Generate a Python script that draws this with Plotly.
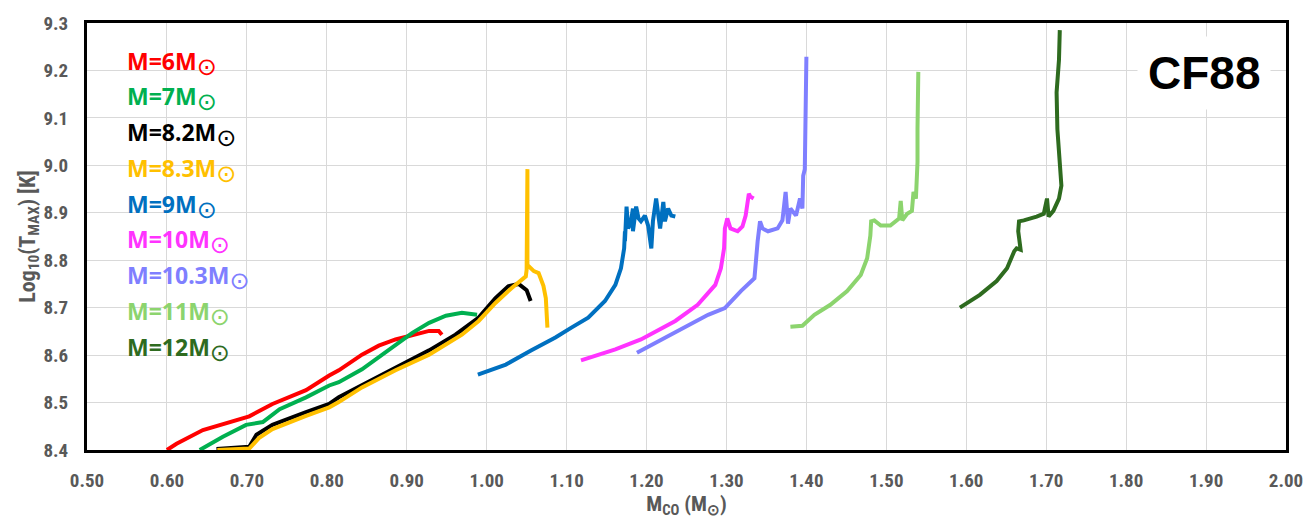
import plotly.graph_objects as go

# ---------------- data ----------------
m6_x = [0.600, 0.612, 0.645, 0.691, 0.703, 0.732, 0.774, 0.803, 0.815, 0.844, 0.865, 0.886, 0.907, 0.928, 0.940, 0.944]
m6_y = [8.400, 8.413, 8.442, 8.465, 8.471, 8.497, 8.526, 8.557, 8.568, 8.601, 8.620, 8.633, 8.643, 8.651, 8.651, 8.643]

m7_x = [0.641, 0.670, 0.699, 0.720, 0.741, 0.774, 0.803, 0.815, 0.844, 0.865, 0.886, 0.907, 0.928, 0.949, 0.969, 0.988]
m7_y = [8.400, 8.428, 8.453, 8.459, 8.486, 8.511, 8.536, 8.543, 8.570, 8.595, 8.622, 8.647, 8.668, 8.683, 8.689, 8.685]

m82_x = [0.662, 0.690, 0.703, 0.712, 0.732, 0.774, 0.803, 0.815, 0.844, 0.886, 0.928, 0.961, 0.990, 1.011, 1.027, 1.040, 1.050, 1.055]
m82_y = [8.402, 8.404, 8.407, 8.432, 8.453, 8.480, 8.497, 8.511, 8.536, 8.574, 8.610, 8.643, 8.679, 8.720, 8.745, 8.750, 8.737, 8.714]

m83_x = [0.663, 0.690, 0.703, 0.715, 0.732, 0.774, 0.803, 0.815, 0.844, 0.886, 0.928, 0.969, 0.990, 1.011, 1.031, 1.049, 1.050, 1.051, 1.051, 1.051, 1.059, 1.065, 1.071, 1.074, 1.076]
m83_y = [8.400, 8.401, 8.403, 8.425, 8.444, 8.472, 8.490, 8.501, 8.532, 8.568, 8.601, 8.643, 8.672, 8.710, 8.741, 8.766, 8.780, 8.992, 8.783, 8.790, 8.777, 8.773, 8.746, 8.720, 8.658]

m9_x = [0.989, 1.024, 1.056, 1.086, 1.106, 1.127, 1.148, 1.161, 1.168, 1.172, 1.173, 1.173, 1.175, 1.177, 1.180, 1.183, 1.183, 1.187, 1.190, 1.193, 1.198, 1.202, 1.206, 1.208, 1.212, 1.217, 1.221, 1.223, 1.227, 1.231, 1.236]
m9_y = [8.559, 8.580, 8.610, 8.637, 8.658, 8.679, 8.714, 8.748, 8.783, 8.825, 8.861, 8.840, 8.913, 8.867, 8.877, 8.909, 8.861, 8.913, 8.888, 8.882, 8.894, 8.873, 8.825, 8.882, 8.930, 8.867, 8.923, 8.882, 8.909, 8.894, 8.892]

m10_x = [1.118, 1.161, 1.193, 1.236, 1.264, 1.286, 1.293, 1.297, 1.298, 1.301, 1.305, 1.314, 1.320, 1.324, 1.328, 1.330, 1.334]
m10_y = [8.589, 8.612, 8.633, 8.672, 8.706, 8.748, 8.783, 8.825, 8.867, 8.888, 8.867, 8.861, 8.871, 8.894, 8.940, 8.934, 8.930]

m103_x = [1.188, 1.236, 1.277, 1.298, 1.318, 1.335, 1.337, 1.339, 1.342, 1.345, 1.352, 1.364, 1.370, 1.374, 1.377, 1.380, 1.387, 1.392, 1.395, 1.396, 1.398, 1.399, 1.400]
m103_y = [8.605, 8.647, 8.685, 8.699, 8.735, 8.762, 8.804, 8.840, 8.882, 8.867, 8.861, 8.867, 8.884, 8.944, 8.877, 8.909, 8.894, 8.930, 8.909, 8.978, 8.992, 9.097, 9.229]

m11_x = [1.380, 1.395, 1.410, 1.430, 1.451, 1.468, 1.476, 1.480, 1.481, 1.485, 1.493, 1.505, 1.516, 1.518, 1.520, 1.526, 1.532, 1.534, 1.537, 1.539, 1.539, 1.540]
m11_y = [8.660, 8.662, 8.685, 8.706, 8.735, 8.769, 8.804, 8.852, 8.882, 8.884, 8.873, 8.873, 8.888, 8.925, 8.884, 8.898, 8.904, 8.944, 8.930, 9.007, 9.076, 9.197]

m12_x = [1.592, 1.617, 1.638, 1.651, 1.660, 1.663, 1.668, 1.665, 1.666, 1.672, 1.688, 1.697, 1.701, 1.703, 1.709, 1.716, 1.719, 1.717, 1.714, 1.713, 1.716, 1.717]
m12_y = [8.700, 8.727, 8.756, 8.783, 8.819, 8.825, 8.822, 8.861, 8.882, 8.884, 8.892, 8.898, 8.930, 8.892, 8.904, 8.930, 8.957, 8.999, 9.076, 9.154, 9.223, 9.285]

series_names = ["M=6M", "M=7M", "M=8.2M", "M=8.3M", "M=9M", "M=10M", "M=10.3M", "M=11M", "M=12M"]
series_x = [m6_x, m7_x, m82_x, m83_x, m9_x, m10_x, m103_x, m11_x, m12_x]
series_y = [m6_y, m7_y, m82_y, m83_y, m9_y, m10_y, m103_y, m11_y, m12_y]
series_colors = ["#ff0000", "#00b050", "#000000", "#ffc000", "#0070c0",
                 "#ff33ff", "#7f7fff", "#8cd46e", "#2e6b1f"]

x_ticks = [0.5 + 0.1 * i for i in range(16)]
y_ticks = [8.4 + 0.1 * i for i in range(10)]

# ---------------- figure ----------------
fig = go.Figure()
for name, xs, ys, col in zip(series_names, series_x, series_y, series_colors):
    fig.add_trace(go.Scatter(x=xs, y=ys, mode="lines", name=name,
                             line=dict(color=col, width=4),
                             showlegend=False))

narrow = "Liberation Sans Narrow, Roboto Condensed, Roboto, sans-serif"
tick_font = dict(family=narrow, size=19, color="#595959", weight="bold")

fig.update_layout(
    width=1315, height=524,
    margin=dict(l=87, r=25, t=23, b=71),
    paper_bgcolor="white", plot_bgcolor="white",
    font=dict(family="Roboto, sans-serif"),
)
fig.update_xaxes(range=[0.5, 2.0], tickvals=x_ticks,
                 ticktext=[f"{v:.2f}" for v in x_ticks],
                 tickfont=tick_font, showgrid=True, gridcolor="#d9d9d9", gridwidth=1,
                 showline=True, linecolor="black", linewidth=3, mirror=True,
                 zeroline=False, ticks="", ticklabelstandoff=11,
                 title=dict(text="M<sub>CO</sub> (M<sub>⊙</sub>)",
                            font=dict(family=narrow, size=21, color="#595959", weight="bold"),
                            standoff=6))
fig.update_yaxes(range=[8.4, 9.3], tickvals=y_ticks,
                 ticktext=[f"{v:.1f}" for v in y_ticks],
                 tickfont=tick_font, showgrid=True, gridcolor="#d9d9d9", gridwidth=1,
                 showline=True, linecolor="black", linewidth=3, mirror=True,
                 zeroline=False, ticks="", ticklabelstandoff=12,
                 title=dict(text="Log<sub>10</sub>(T<sub>MAX</sub>) [K]",
                            font=dict(family=narrow, size=22, color="#595959", weight="bold"),
                            standoff=2))

# white box behind the legend text (covers grid lines)
fig.add_shape(type="rect", xref="paper", yref="paper", x0=0.004, x1=0.150, y0=0.17, y1=0.985,
              fillcolor="white", line=dict(width=0), layer="between")

# legend as coloured text lines
leg_top_px = 63
leg_step_px = 36
for i, (name, col) in enumerate(zip(series_names, series_colors)):
    py = leg_top_px + i * leg_step_px
    fig.add_annotation(xref="paper", yref="paper", x=0.032, y=(453 - py) / 430,
                       xanchor="left", yanchor="middle", showarrow=False,
                       text=(f"{name}<sub><span style='font-family:DejaVu Sans;"
                             f"font-weight:normal;font-size:24px'>⊙</span></sub>"),
                       font=dict(family="Noto Sans, sans-serif", size=23, color=col, weight="bold"))

# CF88 label
fig.add_annotation(xref="paper", yref="paper", x=(1208 - 87) / 1203, y=(453 - 73) / 430,
                   xanchor="center", yanchor="middle", showarrow=False,
                   text="CF88", bgcolor="white", borderpad=10,
                   font=dict(family="Liberation Sans, Arial, sans-serif", size=46, color="black", weight="bold"))

fig.write_html("out.html")
